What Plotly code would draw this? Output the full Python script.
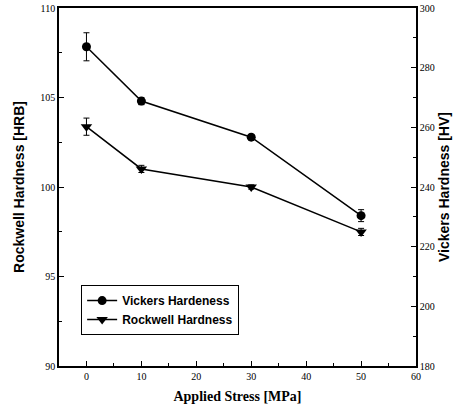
import plotly.graph_objects as go

stress = [0, 10, 30, 50]
vickers = [287.0, 268.8, 256.7, 230.4]
vickers_err = [4.7, 1.2, 0.8, 2.0]
rockwell = [103.37, 101.01, 100.0, 97.49]
rockwell_err = [0.48, 0.2, 0.12, 0.2]

fig = go.Figure()
fig.add_trace(go.Scatter(
    x=stress, y=vickers, yaxis="y2", name="<b>Vickers Hardeness</b>",
    mode="lines+markers",
    line=dict(color="black", width=1.5),
    marker=dict(symbol="circle", size=9, color="black"),
    error_y=dict(type="data", array=vickers_err, color="black", thickness=1, width=3),
))
fig.add_trace(go.Scatter(
    x=stress, y=rockwell, yaxis="y", name="<b>Rockwell Hardness</b>",
    mode="lines+markers",
    line=dict(color="black", width=1.5),
    marker=dict(symbol="triangle-down", size=10, color="black"),
    error_y=dict(type="data", array=rockwell_err, color="black", thickness=1, width=3),
))

tickfont = dict(family="Liberation Serif", size=10, color="black")
fig.update_layout(
    width=454, height=411,
    margin=dict(l=59, r=38, t=8, b=45),
    paper_bgcolor="white", plot_bgcolor="white",
    showlegend=True,
    legend=dict(
        x=0.062, y=0.226, xanchor="left", yanchor="top",
        bordercolor="black", borderwidth=1, bgcolor="white",
        font=dict(family="Liberation Sans", size=12, color="black"),
        tracegroupgap=0, itemwidth=30,
    ),
    xaxis=dict(
        range=[-5, 60], tickvals=[0, 10, 20, 30, 40, 50, 60],
        ticks="inside", ticklen=5, tickcolor="black", automargin=False,
        minor=dict(tickvals=[5, 15, 25, 35, 45, 55], ticks="inside", ticklen=3, tickcolor="black"),
        showline=True, linecolor="black", linewidth=1.5, mirror=True,
        showgrid=False, zeroline=False, tickfont=tickfont,
        title=dict(text="<b>Applied Stress [MPa]</b>",
                   font=dict(family="Liberation Serif", size=14, color="black"), standoff=10),
    ),
    yaxis=dict(
        range=[90, 110], tickvals=[90, 95, 100, 105, 110],
        ticks="inside", ticklen=5, tickcolor="black", automargin=False,
        minor=dict(tickvals=[92.5, 97.5, 102.5, 107.5], ticks="inside", ticklen=3, tickcolor="black"),
        showline=True, linecolor="black", linewidth=1.5,
        showgrid=False, zeroline=False, tickfont=tickfont,
        title=dict(text="<b>Rockwell Hardness [HRB]</b>",
                   font=dict(family="Liberation Sans", size=14, color="black"), standoff=12),
    ),
    yaxis2=dict(
        range=[180, 300], tickvals=[180, 200, 220, 240, 260, 280, 300],
        overlaying="y", side="right", automargin=False,
        ticks="inside", ticklen=5, tickcolor="black",
        minor=dict(tickvals=[190, 210, 230, 250, 270, 290], ticks="inside", ticklen=3, tickcolor="black"),
        showline=True, linecolor="black", linewidth=1.5,
        showgrid=False, zeroline=False, tickfont=tickfont,
        title=dict(text="<b>Vickers Hardness [HV]</b>",
                   font=dict(family="Liberation Sans", size=14, color="black"), standoff=5),
    ),
)
fig.write_html("out.html")
